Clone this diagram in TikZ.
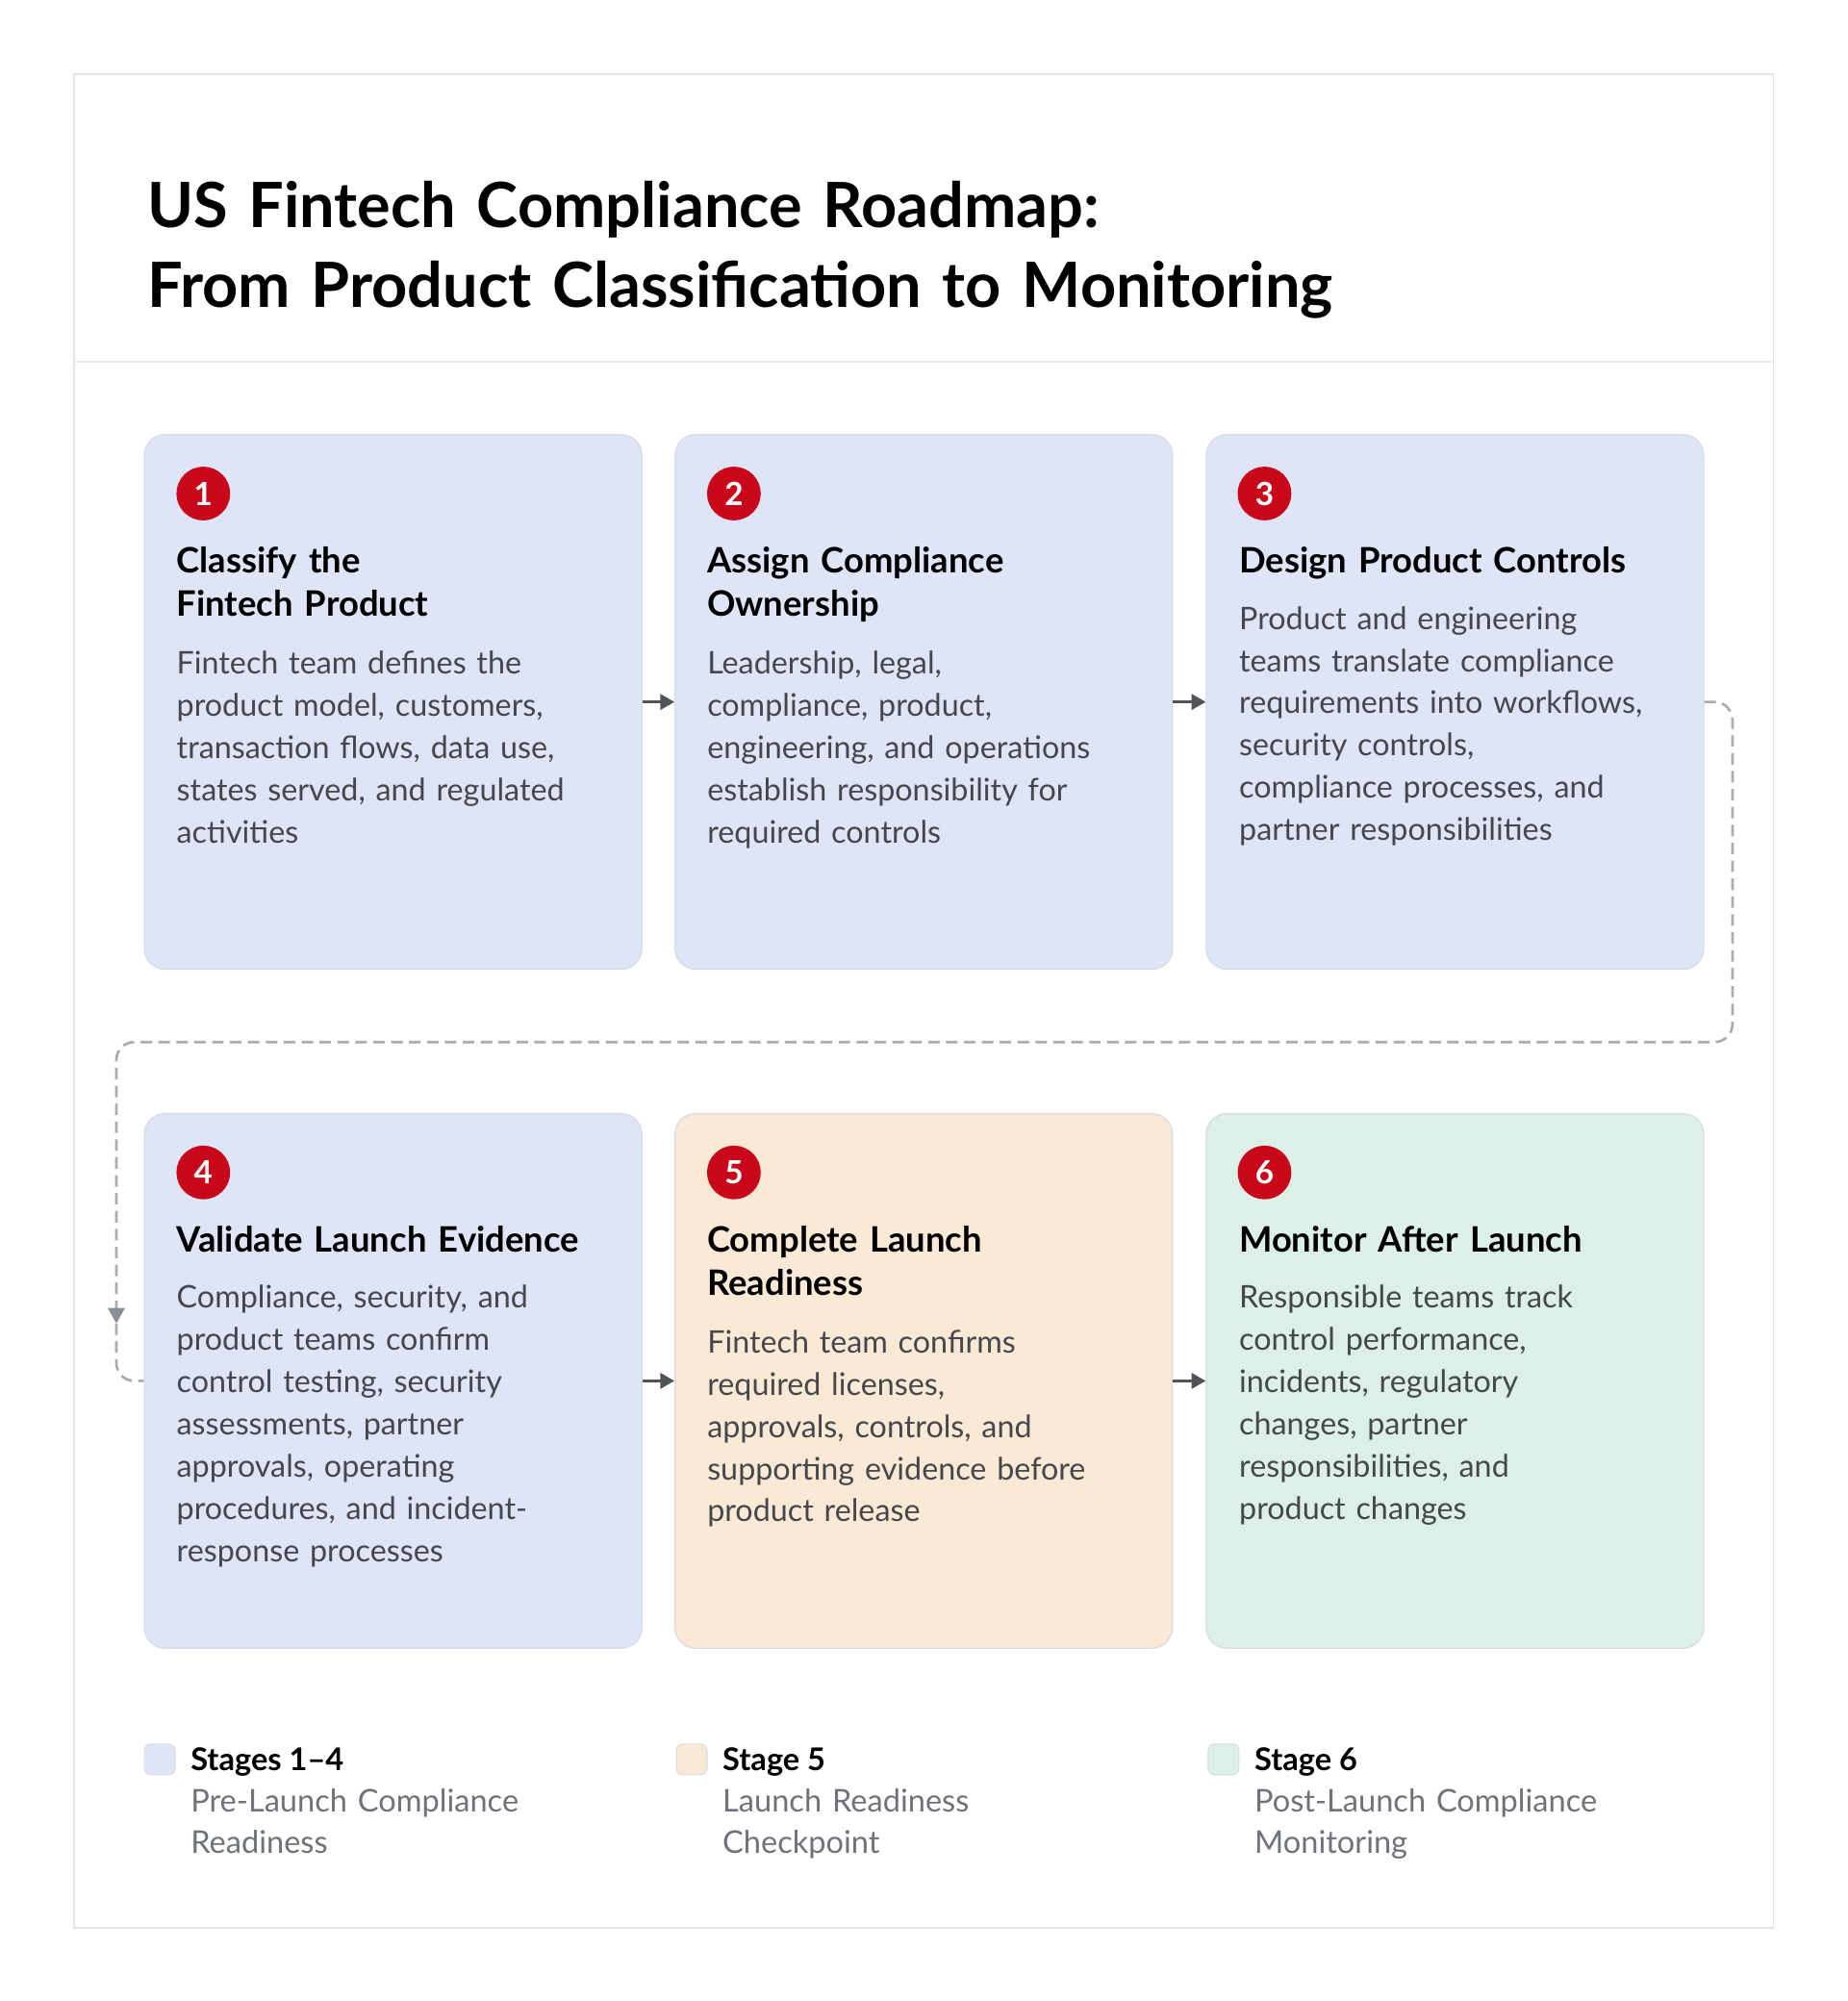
\documentclass[tikz,border=0pt]{standalone}
\usepackage{fontspec}
\setmainfont{Lato}
\usetikzlibrary{arrows.meta}
\definecolor{bluefill}{HTML}{DFE5F6}
\definecolor{peachfill}{HTML}{FAE9D5}
\definecolor{mintfill}{HTML}{DDF0E7}
\definecolor{boxline}{HTML}{D8DCE4}
\definecolor{badgered}{HTML}{C8071A}
\definecolor{bodygray}{HTML}{45474D}
\definecolor{leggray}{HTML}{6E727A}
\definecolor{arrowgray}{HTML}{505357}
\definecolor{dashgray}{HTML}{A8ABB1}
\definecolor{tipgray}{HTML}{8A8D93}
\definecolor{framegray}{HTML}{E4E4E4}
\definecolor{sepgray}{HTML}{ECECEC}
\begin{document}
\begin{tikzpicture}[x=1pt,y=-1pt,
  stagebox/.style={draw=boxline, line width=1pt, rounded corners=16pt, minimum width=389pt, minimum height=418pt, inner sep=0pt},
  badge/.style={circle, fill=badgered, text=white, minimum size=42pt, inner sep=0pt, font=\fontsize{25}{25}\selectfont\bfseries},
  heading/.style={anchor=north west, inner sep=0pt, text width=370pt, align=left, font=\fontsize{27.4}{34}\selectfont\bfseries, text=black},
  bodytext/.style={anchor=north west, inner sep=0pt, text width=370pt, align=left, font=\fontsize{24.3}{33}\selectfont, text=bodygray},
  titletext/.style={anchor=north west, inner sep=0pt, text width=1200pt, align=left, font=\fontsize{48.8}{62}\selectfont\bfseries, text=black},
  legsq/.style={draw=boxline, line width=0.8pt, rounded corners=5pt, minimum size=24pt, inner sep=0pt},
  leghead/.style={anchor=base west, inner sep=0pt, font=\fontsize{24.5}{30}\selectfont\bfseries, text=black},
  legsub/.style={anchor=north west, inner sep=0pt, text width=350pt, align=left, font=\fontsize{24.5}{32}\selectfont, text=leggray},
  flow/.style={draw=arrowgray, line width=2.2pt, -{Triangle[length=11pt,width=12pt]}},
  loopline/.style={draw=dashgray, line width=2pt, dash pattern=on 9pt off 5pt, rounded corners=14pt},
]
\useasboundingbox (0,0) rectangle (1445,1565);
\fill[white] (0,0) rectangle (1445,1565);
% frame
\draw[framegray, line width=1.2pt] (58,58) rectangle (1387,1508);
\draw[sepgray, line width=1.2pt] (58,283) -- (1387,283);
% title
\node[titletext] (title) at (115,134.6) {\strut US Fintech Compliance Roadmap:\\From Product Classification to Monitoring};

% boxes
\node[stagebox, fill=bluefill] (b1) at (307.5,549) {};
\node[stagebox, fill=bluefill] (b2) at (722.5,549) {};
\node[stagebox, fill=bluefill] (b3) at (1138,549) {};
\node[stagebox, fill=bluefill] (b4) at (307.5,1080) {};
\node[stagebox, fill=peachfill] (b5) at (722.5,1080) {};
\node[stagebox, fill=mintfill] (b6) at (1138,1080) {};

% badges
\node[badge] (n1) at (159,386) {1};
\node[badge] (n2) at (574,386) {2};
\node[badge] (n3) at (989,386) {3};
\node[badge] (n4) at (159,917) {4};
\node[badge] (n5) at (574,917) {5};
\node[badge] (n6) at (989,917) {6};

% headings
\node[heading] (h1) at (138,424.2) {\strut Classify the\\Fintech Product};
\node[heading] (h2) at (553,424.2) {\strut Assign Compliance\\Ownership};
\node[heading] (h3) at (969,424.2) {\strut Design Product Controls};
\node[heading] (h4) at (138,955.2) {\strut Validate Launch Evidence};
\node[heading] (h5) at (553,955.2) {\strut Complete Launch\\Readiness};
\node[heading] (h6) at (969,955.2) {\strut Monitor After Launch};

% bodies
\node[bodytext] (t1) at (138,503.9) {\strut Fintech team defines the\\product model, customers,\\transaction flows, data use,\\states served, and regulated\\activities};
\node[bodytext] (t2) at (553,503.9) {\strut Leadership, legal,\\compliance, product,\\engineering, and operations\\establish responsibility for\\required controls};
\node[bodytext] (t3) at (969,468.9) {\strut Product and engineering\\teams translate compliance\\requirements into workflows,\\security controls,\\compliance processes, and\\partner responsibilities};
\node[bodytext] (t4) at (138,999.9) {\strut Compliance, security, and\\product teams confirm\\control testing, security\\assessments, partner\\approvals, operating\\procedures, and incident-\\response processes};
\node[bodytext] (t5) at (553,1034.9) {\strut Fintech team confirms\\required licenses,\\approvals, controls, and\\supporting evidence before\\product release};
\node[bodytext] (t6) at (969,999.9) {\strut Responsible teams track\\control performance,\\incidents, regulatory\\changes, partner\\responsibilities, and\\product changes};

% flow arrows
\draw[flow] (b1) -- (b2);
\draw[flow] (b2) -- (b3);
\draw[flow] (b4) -- (b5);
\draw[flow] (b5) -- (b6);

% loop connector
\coordinate (c1) at (1355,549);
\coordinate (c2) at (1355,815);
\coordinate (c3) at (91,815);
\coordinate (c4) at (91,1035);
\draw[loopline, -{Triangle[length=12pt,width=13pt,color=tipgray]}] (b3.east) -- (c1) -- (c2) -- (c3) -- (c4);
\draw[loopline] (c4) |- (b4.west);

% legend
\node[legsq, fill=bluefill] (l1) at (125,1376) {};
\node[legsq, fill=peachfill] (l2) at (541,1376) {};
\node[legsq, fill=mintfill] (l3) at (957,1376) {};
\node[leghead] (lh1) at (149,1385) {Stages 1–4};
\node[leghead] (lh2) at (565,1385) {Stage 5};
\node[leghead] (lh3) at (981,1385) {Stage 6};
\node[legsub] (ls1) at (149,1394.6) {\strut Pre-Launch Compliance\\Readiness};
\node[legsub] (ls2) at (565,1394.6) {\strut Launch Readiness\\Checkpoint};
\node[legsub] (ls3) at (981,1394.6) {\strut Post-Launch Compliance\\Monitoring};
\end{tikzpicture}
\end{document}
